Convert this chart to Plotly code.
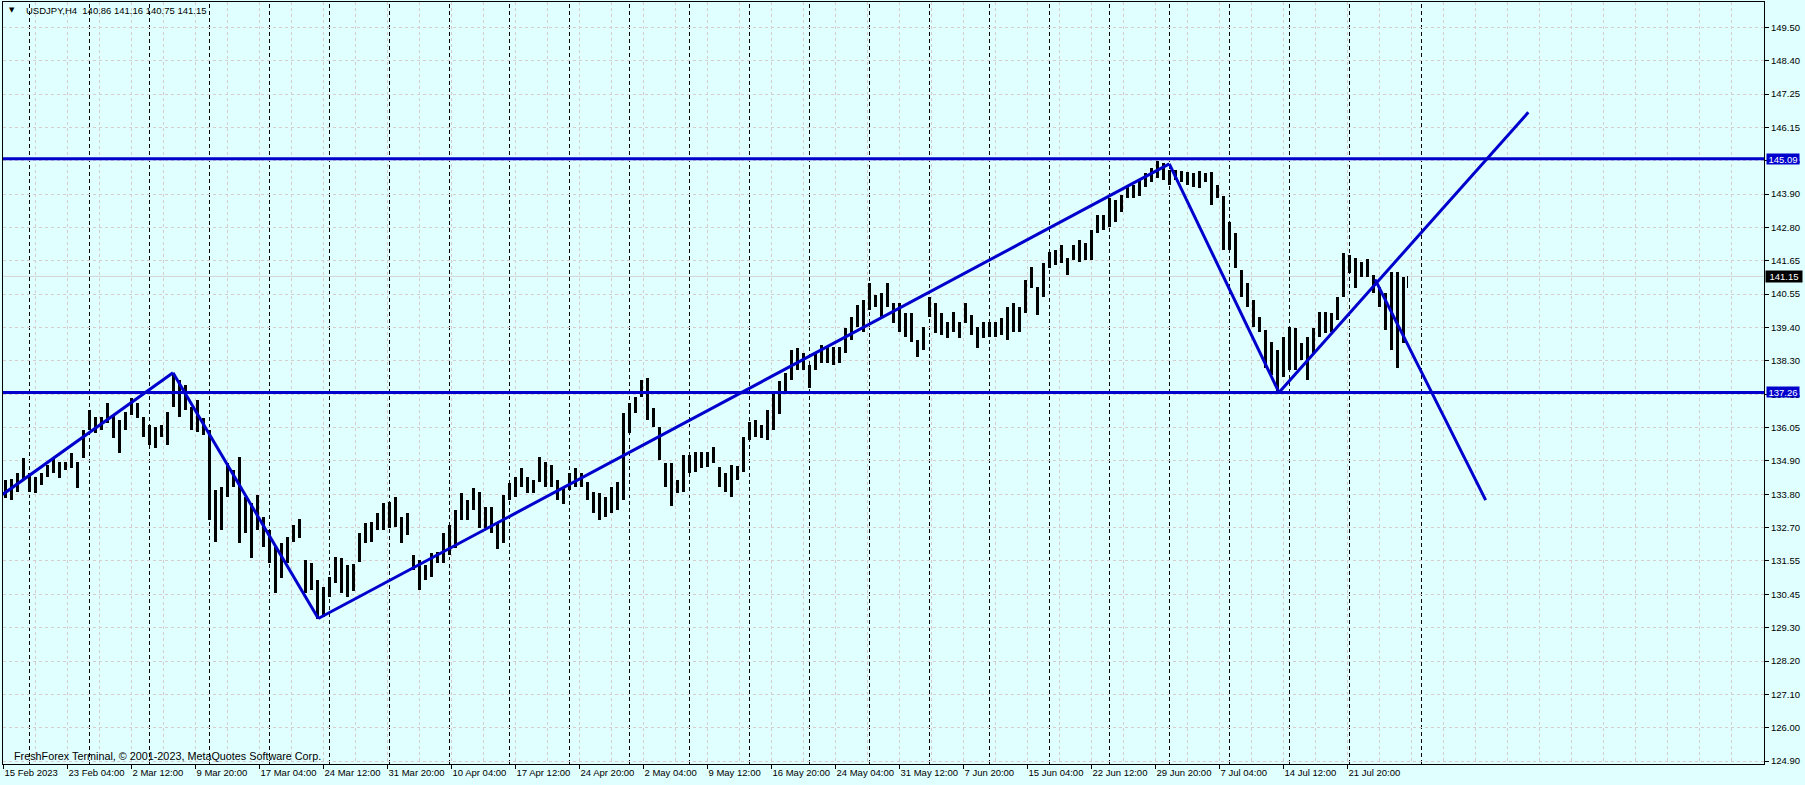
import numpy as np
import plotly.graph_objects as go

# ---------------- data ----------------
symbol = "USDJPY,H4"
last_ohlc = [140.86, 141.16, 140.75, 141.15]   # open, high, low, close of last H4 bar
bid_price = 141.15

# high / low of consecutive groups of three H4 bars (first bar = 15 Feb 20:00)
highs = [
    134.32, 134.35, 134.55, 135.07, 134.55, 134.44, 134.55, 134.83, 135.05, 134.94,
    134.94, 135.22, 134.94, 136.00, 136.67, 136.43, 136.45, 136.89, 136.50, 136.34,
    136.62, 137.08, 136.89, 136.43, 136.17, 136.11, 136.17, 136.62, 137.92, 137.68,
    137.51, 136.78, 137.01, 136.39, 136.00, 133.99, 134.10, 134.88, 134.66, 135.11,
    133.77, 133.54, 133.82, 133.10, 132.65, 132.09, 132.20, 132.42, 132.82, 133.02,
    131.64, 131.53, 130.97, 130.75, 131.08, 131.75, 131.70, 131.47, 131.50, 132.54,
    132.87, 132.93, 133.21, 133.54, 133.60, 133.74, 133.09, 133.21, 131.81, 131.64,
    131.47, 131.87, 131.92, 132.54, 132.82, 133.32, 133.90, 133.65, 134.04, 133.93,
    133.43, 133.43, 132.93, 133.82, 134.21, 134.44, 134.71, 134.44, 134.32, 135.11,
    134.94, 134.83, 134.32, 134.10, 134.55, 134.71, 134.55, 134.27, 133.93, 133.88,
    133.77, 134.10, 134.27, 136.56, 136.89, 137.12, 137.68, 137.75, 136.73, 136.11,
    134.88, 134.88, 134.32, 135.16, 135.16, 135.27, 135.27, 135.27, 135.44, 134.77,
    134.55, 134.83, 134.80, 135.78, 136.28, 136.34, 136.17, 136.67, 137.23, 137.65,
    137.90, 138.68, 138.74, 138.57, 138.18, 138.63, 138.85, 138.79, 138.79, 138.79,
    139.41, 139.80, 140.19, 140.36, 140.92, 140.53, 140.58, 140.92, 140.25, 140.25,
    139.91, 139.91, 139.02, 139.46, 140.47, 140.25, 139.91, 139.63, 139.97, 139.63,
    140.25, 139.86, 139.46, 139.63, 139.63, 139.63, 139.74, 140.14, 140.25, 140.14,
    141.03, 141.48, 140.81, 141.59, 141.98, 142.03, 142.20, 141.76, 142.20, 142.37,
    142.26, 142.71, 143.21, 143.21, 143.77, 143.71, 143.88, 144.16, 144.22, 144.36,
    144.60, 144.77, 145.03, 144.94, 144.72, 144.72, 144.69, 144.66, 144.60, 144.69,
    144.63, 144.66, 144.21, 143.84, 142.98, 142.59, 141.36, 140.92, 140.36, 139.80,
    139.35, 138.96, 138.68, 139.13, 139.46, 139.41, 138.91, 139.13, 139.41, 139.97,
    139.97, 139.91, 140.47, 141.92, 141.87, 141.75, 141.64, 141.72, 141.20, 140.81,
    140.58, 141.31, 141.31, 141.14, 141.16,
]
lows = [
    133.71, 133.65, 133.93, 134.32, 133.93, 133.90, 134.16, 134.44, 134.55, 134.38,
    134.66, 134.72, 134.05, 135.05, 136.00, 135.89, 136.00, 136.22, 135.72, 135.24,
    136.00, 136.50, 136.39, 135.78, 135.50, 135.39, 135.78, 135.50, 136.78, 136.45,
    136.67, 136.00, 135.94, 135.83, 132.98, 132.26, 132.65, 133.77, 134.10, 132.20,
    132.54, 131.70, 132.65, 132.09, 131.53, 130.52, 131.03, 131.53, 132.26, 132.37,
    130.52, 130.64, 129.68, 129.74, 130.41, 130.86, 130.52, 130.41, 130.60, 131.59,
    132.20, 132.26, 132.65, 132.65, 132.70, 132.76, 132.20, 132.48, 131.31, 130.64,
    130.97, 131.08, 131.53, 131.53, 131.81, 132.03, 132.98, 132.98, 133.32, 132.70,
    132.70, 132.54, 132.00, 132.20, 133.65, 133.77, 134.10, 133.88, 133.88, 134.27,
    134.10, 134.10, 133.65, 133.52, 133.99, 134.10, 134.10, 133.65, 133.21, 132.98,
    133.09, 133.21, 133.32, 133.65, 135.89, 136.56, 137.12, 136.34, 136.11, 134.99,
    134.10, 133.46, 133.88, 133.93, 134.55, 134.60, 134.71, 134.77, 134.88, 134.10,
    133.93, 133.77, 134.32, 134.60, 135.66, 135.78, 135.72, 135.66, 136.00, 136.55,
    137.29, 137.68, 138.01, 138.01, 137.40, 138.01, 138.24, 138.24, 138.18, 138.24,
    138.57, 139.02, 139.46, 139.30, 140.02, 140.14, 139.80, 140.14, 139.58, 139.30,
    139.13, 138.96, 138.46, 138.68, 139.80, 139.24, 139.19, 139.07, 139.30, 139.07,
    139.58, 139.19, 138.74, 139.07, 139.13, 139.13, 139.19, 139.02, 139.30, 139.30,
    139.91, 140.75, 139.86, 140.47, 141.42, 141.53, 141.59, 141.20, 141.70, 141.64,
    141.70, 141.70, 142.59, 142.71, 142.82, 142.98, 143.32, 143.77, 143.78, 143.85,
    144.16, 144.33, 144.44, 144.38, 144.21, 144.38, 144.33, 144.21, 144.16, 144.10,
    144.33, 143.54, 143.77, 142.03, 142.03, 141.42, 140.47, 140.13, 139.46, 139.30,
    138.07, 137.84, 137.26, 137.79, 138.01, 138.01, 138.35, 137.68, 138.57, 139.13,
    139.24, 139.30, 139.69, 140.47, 141.25, 140.75, 141.14, 141.14, 140.58, 140.13,
    139.35, 138.68, 138.07, 138.91, 140.75,
]
bars_per_group = 3
last_bar = 702            # index of the last H4 bar (28 Jul 20:00)
bars_visible = 880.5      # chart width in bars (2 px per bar)

date_labels = [
    "15 Feb 2023", "23 Feb 04:00", "2 Mar 12:00", "9 Mar 20:00", "17 Mar 04:00",
    "24 Mar 12:00", "31 Mar 20:00", "10 Apr 04:00", "17 Apr 12:00", "24 Apr 20:00",
    "2 May 04:00", "9 May 12:00", "16 May 20:00", "24 May 04:00", "31 May 12:00",
    "7 Jun 20:00", "15 Jun 04:00", "22 Jun 12:00", "29 Jun 20:00", "7 Jul 04:00",
    "14 Jul 12:00", "21 Jul 20:00",
]
bars_per_label = 32
price_labels = [
    "124.90", "126.00", "127.10", "128.20", "129.30", "130.45", "131.55", "132.70",
    "133.80", "134.90", "136.05", "137.15", "138.30", "139.40", "140.55", "141.65",
    "142.80", "143.90", "145.05", "146.15", "147.25", "148.40", "149.50",
]
price_min, price_max = 124.803, 150.348

first_week_start = 13     # bar index of Mon 20 Feb 00:00
bars_per_week = 30
future_separator = 709

# trend lines drawn on the chart (bar index, price)
trend_x = [[-0.4, 84.75], [84.75, 157.4], [157.4, 582.9], [582.9, 637.75],
           [637.75, 762.4], [685.75, 741.1]]
trend_y = [[133.84, 137.92], [137.92, 129.68], [129.68, 144.92], [144.92, 137.26],
           [137.26, 146.65], [141.05, 133.65]]
levels = [145.09, 137.26]

# ---------------- styling ----------------
BG = "#E0FFFF"
BLUE = "#0000CD"
GRID = "#D6CCCC"
FONT = "Liberation Sans"

n = len(highs)
starts = np.arange(n) * bars_per_group
ends = np.minimum(starts + bars_per_group - 1, last_bar)
centers = (starts + ends) / 2.0
widths = np.minimum((ends - starts + 1) * 0.37, 1.1)
hi = np.array(highs)
lo = np.array(lows)

fig = go.Figure()
fig.add_trace(go.Bar(
    x=centers, y=hi - lo, base=lo, width=widths,
    marker=dict(color="black", line=dict(width=0)),
    hoverinfo="skip", showlegend=False,
))
for xs, ys in zip(trend_x, trend_y):
    fig.add_trace(go.Scatter(x=xs, y=ys, mode="lines",
                             line=dict(color=BLUE, width=3),
                             hoverinfo="skip", showlegend=False))

shapes = []
seps = list(range(first_week_start, last_bar + 1, bars_per_week)) + [future_separator]
for s in seps:
    shapes.append(dict(type="line", xref="x", yref="paper", x0=s, x1=s, y0=0, y1=1,
                       line=dict(color="black", width=1, dash="4px,3px"), layer="between"))
shapes.append(dict(type="line", xref="paper", yref="y", x0=0, x1=1, y0=bid_price, y1=bid_price,
                   line=dict(color="#D3D3D3", width=1), layer="between"))
for lv in levels:
    shapes.append(dict(type="line", xref="paper", yref="y", x0=0, x1=1, y0=lv, y1=lv,
                       line=dict(color=BLUE, width=3), layer="above"))

annotations = []
for lv in levels:
    annotations.append(dict(xref="paper", yref="y", x=1, y=lv, text=f"{lv:.2f}",
                            xanchor="left", yanchor="middle", xshift=2, showarrow=False,
                            bgcolor=BLUE, font=dict(color="white", size=9.5, family=FONT),
                            borderpad=0, height=10, width=32))
annotations.append(dict(xref="paper", yref="y", x=1, y=bid_price, text=f"{bid_price:.2f}",
                        xanchor="left", yanchor="middle", xshift=1, showarrow=False,
                        bgcolor="black", font=dict(color="white", size=9.5, family=FONT),
                        borderpad=0, height=11, width=36))
annotations.append(dict(xref="paper", yref="paper", x=0.0023, y=0.9895, text="▼",
                        xanchor="left", yanchor="middle", showarrow=False,
                        font=dict(color="black", size=7, family="DejaVu Sans")))
header = symbol + "  " + " ".join(f"{v:.2f}" for v in last_ohlc)
annotations.append(dict(xref="paper", yref="paper", x=0.0119, y=0.9895, text=header,
                        xanchor="left", yanchor="middle", showarrow=False,
                        font=dict(color="black", size=9.5, family=FONT)))
annotations.append(dict(xref="paper", yref="paper", x=0.0051, y=0.0105,
                        text="FreshForex Terminal, © 2001-2023, MetaQuotes Software Corp.",
                        xanchor="left", yanchor="middle", showarrow=False,
                        font=dict(color="black", size=10.8, family=FONT)))

tickvals_x = [k * bars_per_label for k in range(len(date_labels))]
tickvals_y = np.linspace(float(price_labels[0]), float(price_labels[-1]), len(price_labels))

fig.update_layout(
    width=1805, height=785,
    margin=dict(l=3, r=41, t=2, b=21, pad=0),
    paper_bgcolor=BG, plot_bgcolor=BG,
    font=dict(family=FONT, size=9.5, color="black"),
    bargap=0,
    shapes=shapes, annotations=annotations,
    xaxis=dict(
        range=[-0.25, -0.25 + bars_visible], tickmode="array",
        tickvals=tickvals_x, ticktext=date_labels, tickangle=0,
        ticks="outside", ticklen=4, tickcolor="black", tickwidth=1,
        ticklabelposition="outside right",
        showline=True, linecolor="black", linewidth=1, mirror=True,
        showgrid=True, gridcolor=GRID, gridwidth=1, griddash="3px,3px",
        minor=dict(tickmode="linear", tick0=0, dtick=bars_per_label // 2, showgrid=True,
                   gridcolor=GRID, griddash="3px,3px", gridwidth=1, ticks=""),
        zeroline=False, fixedrange=True,
    ),
    yaxis=dict(
        range=[price_min, price_max], side="right", tickmode="array",
        tickvals=tickvals_y, ticktext=price_labels,
        ticks="outside", ticklen=4, tickcolor="black", tickwidth=1,
        showline=True, linecolor="black", linewidth=1, mirror=True,
        showgrid=True, gridcolor=GRID, gridwidth=1, griddash="3px,3px",
        zeroline=False, fixedrange=True,
    ),
)

fig.write_html("out.html", config={"displayModeBar": False},
               post_script="document.body.style.margin='0';document.body.style.overflow='hidden';")
